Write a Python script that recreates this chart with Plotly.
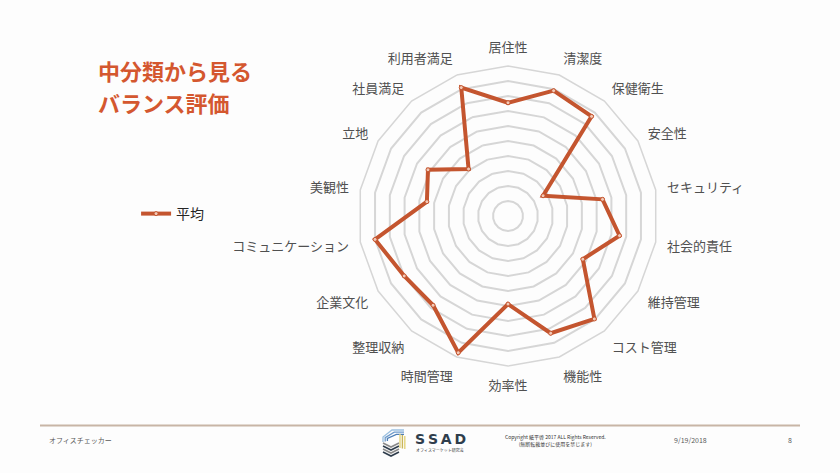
import plotly.graph_objects as go

categories = ["居住性", "清潔度", "保健衛生", "安全性", "セキュリティ", "社会的責任",
              "維持管理", "コスト管理", "機能性", "効率性", "時間管理", "整理収納",
              "企業文化", "コミュニケーション", "美観性", "立地", "社員満足", "利用者満足"]
average = [75.5, 88.9, 86.7, 27.0, 64.0, 75.5, 57.6, 89.6, 83.2, 58.7, 97.0, 77.7,
           79.9, 90.0, 54.9, 61.6, 40.9, 91.1]
series_name = "平均"
title_lines = ["中分類から見る", "バランス評価"]

FONT = "Noto Sans CJK JP"
LINE_C = "#C4552F"

fig = go.Figure()
fig.add_trace(go.Scatterpolar(
    r=average + average[:1],
    theta=categories + categories[:1],
    mode="lines+markers",
    name=series_name,
    line=dict(color=LINE_C, width=4),
    marker=dict(size=4, color="#F3C9B6", line=dict(color=LINE_C, width=1)),
))

W, H = 840, 473
cx, cy, R = 508, 216, 150


def px(x):
    return x / W


def py(y):
    return 1 - y / H


fig.update_layout(
    width=W, height=H,
    margin=dict(l=0, r=0, t=0, b=0),
    paper_bgcolor="#FDFDFD",
    font=dict(family=FONT, color="#404040"),
    polar=dict(
        domain=dict(x=[(cx - R) / W, (cx + R) / W], y=[(H - cy - R) / H, (H - cy + R) / H]),
        bgcolor="rgba(0,0,0,0)",
        gridshape="linear",
        radialaxis=dict(range=[0, 100], dtick=10, showticklabels=False, ticks="",
                        showline=False, gridcolor="#D6D6D6", gridwidth=1.5),
        angularaxis=dict(direction="clockwise", rotation=90, showgrid=False,
                         showline=True, linecolor="#D6D6D6", linewidth=1.5,
                         ticks="outside", ticklen=8, tickcolor="rgba(0,0,0,0)",
                         tickfont=dict(size=13, color="#505050", family=FONT)),
    ),
    showlegend=True,
    legend=dict(x=0.162, y=(H - 214) / H, xanchor="left", yanchor="middle",
                bgcolor="rgba(0,0,0,0)", font=dict(size=14, color="#262626", family=FONT)),
)

# Title (two lines)
for line, yc in zip(title_lines, [70, 102]):
    fig.add_annotation(text="<b>" + line + "</b>", x=px(96), y=py(yc),
                       xref="paper", yref="paper", xanchor="left", yanchor="middle",
                       showarrow=False, font=dict(size=22, color="#D4572F", family=FONT))

# Footer rule
fig.add_shape(type="line", xref="paper", yref="paper", x0=px(40), x1=px(800),
              y0=py(425.5), y1=py(425.5), line=dict(color="#C8B5A6", width=2))

# Footer texts
small = dict(size=7, color="#595959", family=FONT)
fig.add_annotation(text="オフィスチェッカー", x=px(47), y=py(440), xref="paper", yref="paper",
                   xanchor="left", yanchor="middle", showarrow=False, font=small)
fig.add_annotation(text="9/19/2018", x=px(690), y=py(440), xref="paper", yref="paper",
                   xanchor="center", yanchor="middle", showarrow=False, font=small)
fig.add_annotation(text="8", x=px(790), y=py(440), xref="paper", yref="paper",
                   xanchor="center", yanchor="middle", showarrow=False, font=small)
fig.add_annotation(text="Copyright 紙平啓 2017 ALL Rights Reserved.<br>(無断転載並びに使用を禁じます)",
                   x=px(555), y=py(440), xref="paper", yref="paper",
                   xanchor="center", yanchor="middle", showarrow=False,
                   font=dict(size=5, color="#333333", family=FONT))
fig.add_annotation(text="<b>S\u2009S\u2009A\u2009D</b>", x=px(413), y=py(439), xref="paper", yref="paper",
                   xanchor="left", yanchor="middle", showarrow=False,
                   font=dict(size=14, color="#2F3D4C", family="DejaVu Sans"))
fig.add_annotation(text="オフィスマーケット研究会", x=px(414), y=py(450), xref="paper", yref="paper",
                   xanchor="left", yanchor="middle", showarrow=False,
                   font=dict(size=4, color="#333333", family=FONT))


def poly(points, color, width=1.3):
    d = "M " + " L ".join(f"{px(x)} {py(y)}" for x, y in points)
    fig.add_shape(type="path", xref="paper", yref="paper", path=d,
                  line=dict(color=color, width=width), fillcolor="rgba(0,0,0,0)")


# Logo mark: blue nested corners, dark stacked chevrons, yellow bars
for i, c in enumerate(["#9CC0E0", "#6E9BCB", "#4D7FB8"]):
    o = i * 2.2
    poly([(383 + o, 442 - o * 0.2), (383 + o, 437 + o * 0.3), (392 + o, 430 + o), (404, 430 + o)], c)
for i, c in enumerate(["#8A8A8A", "#2F3D4C", "#8A8A8A", "#2F3D4C"]):
    o = i * 3
    poly([(383, 443 + o), (391, 447 + o), (399, 443 + o)], c, 1.6)
for i, c in enumerate(["#E3D37A", "#C9B55A", "#E3D37A"]):
    x = 400 + i * 2.4
    poly([(x, 434 + i), (x, 448 + i * 0.5)], c, 1.4)

fig.write_html("out.html", config={"displayModeBar": False},
               post_script="document.body.style.margin='0';")
